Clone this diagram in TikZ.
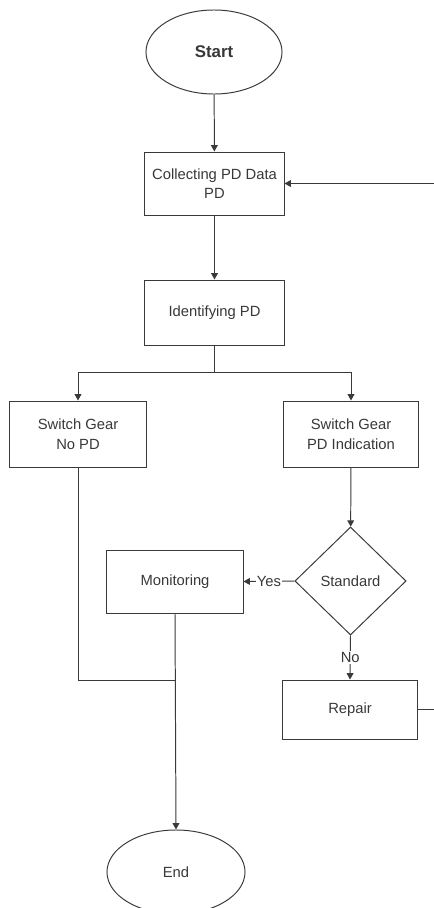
\documentclass[tikz,border=0pt]{standalone}
\usepackage{fontspec}
\setmainfont{Liberation Sans}
\usetikzlibrary{shapes.geometric,arrows.meta}

\definecolor{linecol}{HTML}{3A3A3A}
\definecolor{textcol}{HTML}{383838}

\begin{document}
\begin{tikzpicture}
[
	x=0.025cm,y=-0.025cm,
	color=linecol,line width=0.7pt,
	>={Triangle[length=1.6mm,width=1.7mm]},
	font=\fontsize{10.5}{14}\selectfont,
	terminal/.style={ellipse,draw,text=textcol,minimum width=3.4cm,minimum height=2.1cm,font=\fontsize{12}{14}\selectfont\bfseries},
	box/.style={rectangle,draw,text=textcol,align=center,minimum width=3.4cm,minimum height=1.6cm},
	decision/.style={diamond,draw,text=textcol,inner sep=0pt,minimum width=2.78cm,minimum height=2.7cm},
	edgelabel/.style={fill=white,text=textcol,inner sep=1pt}
]

	\useasboundingbox (0,0) rectangle (434,908);
	\clip (0,0) rectangle (434,908);

	% nodes
	\node[terminal] (start) at (214,52) {Start};
	\node[box,minimum width=3.475cm,minimum height=1.575cm] (collect) at (214.5,183.5) {Collecting PD Data\\PD};
	\node[box,minimum width=3.475cm,minimum height=1.625cm] (ident) at (214.5,312.5) {Identifying PD};
	\node[box,minimum height=1.65cm] (nopd) at (78,434) {Switch Gear\\No PD};
	\node[box,minimum width=3.35cm,minimum height=1.65cm] (pdind) at (351,434) {Switch Gear\\PD Indication};
	\node[decision] (std) at (350.5,581) {Standard};
	\node[box,minimum height=1.575cm] (monit) at (175,581.5) {Monitoring};
	\node[box,minimum width=3.35cm,minimum height=1.475cm] (repair) at (350,709.5) {Repair};
	\node[terminal,font=\fontsize{10.5}{14}\selectfont,minimum width=3.45cm] (finish) at (176,872) {End};

	\coordinate (split) at (214.5,372);
	\coordinate (join) at (175,680);

	% connectors
	\draw[->] (start) -- (collect);
	\draw[->] (collect) -- (ident);
	\draw (ident.south) -- (split);
	\draw[->] (split) -| (nopd.north);
	\draw[->] (split) -| (pdind.north);
	\draw[->] (pdind) -- (std);
	\draw[->] (std.west) -- node[edgelabel] {Yes} (monit.east);
	\draw[->] (std.south) -- node[edgelabel] {No} (repair.north);
	\draw (nopd.south) |- (join);
	\draw[->] (monit.south) -- (finish.north);

	% loop back (runs off the right edge)
	\draw[->] (repair.east) -- ++(40,0) |- (collect.east);

\end{tikzpicture}
\end{document}
